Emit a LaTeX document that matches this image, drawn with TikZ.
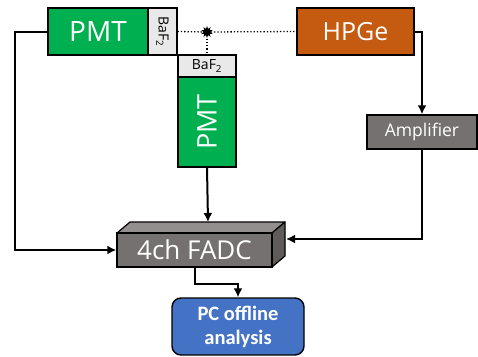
\documentclass[tikz,border=0pt]{standalone}
\usepackage{fontspec}
\setmainfont{Open Sans}
\newfontfamily\calb{Carlito}
\usetikzlibrary{arrows.meta,shapes.geometric}
\definecolor{pmtgreen}{HTML}{00B050}
\definecolor{hporange}{HTML}{C55A11}
\definecolor{ampgray}{HTML}{767171}
\definecolor{topgray}{HTML}{938F8F}
\definecolor{sidegray}{HTML}{5F5B5B}
\definecolor{pcblue}{HTML}{4472C4}
\definecolor{baflight}{HTML}{E9E9E9}
\begin{document}
\begin{tikzpicture}[x=1pt,y=-1pt,
  box/.style={draw=black,line width=1.4pt,inner sep=0pt,text=white},
  bafbox/.style={draw=black,line width=1.2pt,inner sep=0pt,fill=baflight,text=black,font=\fontsize{14}{15}\selectfont},
  conn/.style={line width=2pt,-{Latex[length=9pt,width=9pt]}},
  dots/.style={line width=1.3pt,dotted}]
\useasboundingbox (0,0) rectangle (478,356);
% detectors
\node[box,fill=pmtgreen,minimum width=100pt,minimum height=47pt,font=\fontsize{28}{30}\selectfont] (pmt1) at (98,31.5) {PMT};
\node[bafbox,minimum width=29pt,minimum height=47pt] (baf1) at (162.5,31.5) {\rotatebox{-90}{BaF\textsubscript{2}}};
\node[bafbox,minimum width=58pt,minimum height=22pt] (baf2) at (207,66) {BaF\textsubscript{2}};
\node[box,fill=pmtgreen,minimum width=58pt,minimum height=90pt,font=\fontsize{27}{30}\selectfont] (pmt2) at (207,122) {\rotatebox{90}{PMT}};
\node[box,fill=hporange,minimum width=117pt,minimum height=47pt,font=\fontsize{25}{28}\selectfont] (hpge) at (355.5,31.5) {HPGe};
\node[box,fill=ampgray,minimum width=110pt,minimum height=34pt,font=\fontsize{17.5}{20}\selectfont] (amp) at (422,132) {Amplifier};
% FADC cube
\fill[topgray,draw=black,line width=1.2pt,line join=round] (117,233) -- (130,222) -- (285,222) -- (272,233) -- cycle;
\fill[sidegray,draw=black,line width=1.2pt,line join=round] (272,233) -- (285,222) -- (285,256) -- (272,267) -- cycle;
\node[box,fill=ampgray,minimum width=155pt,minimum height=34pt,font=\fontsize{26}{28}\selectfont] (fadc) at (194.5,250) {4ch FADC};
\coordinate (fadctop) at (208,222);
\coordinate (fadcside) at (286,239);
\node[box,fill=pcblue,rounded corners=9pt,minimum width=132pt,minimum height=57pt,align=center,font=\calb\bfseries\fontsize{20.5}{24}\selectfont] (pc) at (238,326.5) {PC offline\\analysis};
% source
\node[star,star points=10,star point ratio=1.8,fill=black,inner sep=0pt,minimum size=12pt] (src) at (207,32) {};
% dotted lines
\draw[dots] (baf1.east) -- (src) -- (hpge.west);
\draw[dots] (src) -- (baf2.north);
% signal lines
\draw[conn] (pmt1.west) -- (15,31.5) |- (fadc.west);
\draw[conn] (hpge.east) -| (amp.north);
\draw[conn] (amp.south) |- (fadcside);
\draw[conn] (pmt2.south) -- (fadctop);
\draw[conn] (fadc.south) -- ++(0,16) -| (pc.north);
\end{tikzpicture}
\end{document}
